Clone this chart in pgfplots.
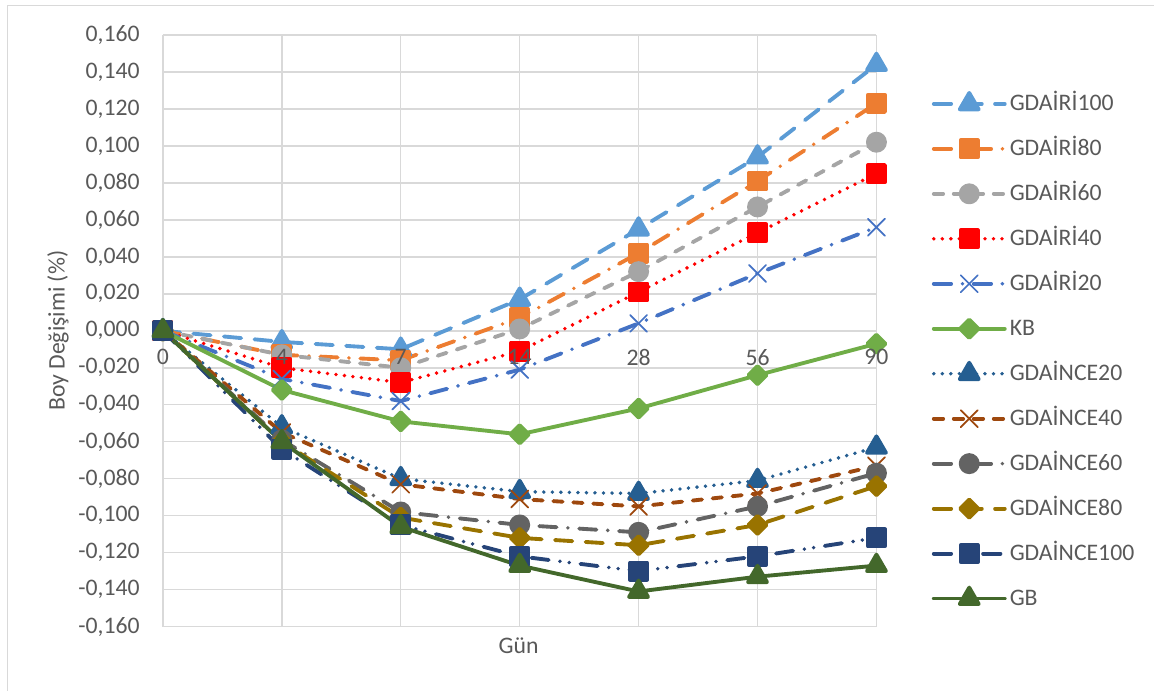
\documentclass[border=0pt]{standalone}
\usepackage{fontspec}
\setmainfont{Carlito}
\usepackage{pgfplots}
\pgfplotsset{compat=1.18}

\definecolor{txt}{HTML}{595959}
\definecolor{gridc}{HTML}{D9D9D9}
\definecolor{cA}{HTML}{5B9BD5}
\definecolor{cB}{HTML}{ED7D31}
\definecolor{cC}{HTML}{A5A5A5}
\definecolor{cD}{HTML}{FF0000}
\definecolor{cE}{HTML}{4472C4}
\definecolor{cF}{HTML}{70AD47}
\definecolor{cG}{HTML}{255E91}
\definecolor{cH}{HTML}{9E480E}
\definecolor{cI}{HTML}{636363}
\definecolor{cJ}{HTML}{997300}
\definecolor{cK}{HTML}{264478}
\definecolor{cL}{HTML}{43682B}

\newcommand{\lbl}{\fontsize{17.8pt}{21pt}\selectfont\color{txt}}

% tick labels sit above the plotted series
\pgfplotsset{
  layers/labelsontop/.define layer set={
    axis background,axis grid,axis ticks,axis lines,pre main,main,axis tick labels,axis descriptions,axis foreground
  }{
    grid style={/pgfplots/on layer=axis grid},
    tick style={/pgfplots/on layer=axis ticks},
    axis line style={/pgfplots/on layer=axis lines},
    label style={/pgfplots/on layer=axis descriptions},
    legend style={/pgfplots/on layer=axis descriptions},
    title style={/pgfplots/on layer=axis descriptions},
    colorbar style={/pgfplots/on layer=axis descriptions},
    ticklabel style={/pgfplots/on layer=axis tick labels},
    axis background@ style={/pgfplots/on layer=axis background},
    3d box foreground style={/pgfplots/on layer=axis foreground},
  },
}

\tikzset{
  longdash/.style={dash pattern=on 13pt off 10pt},
  shortdash/.style={dash pattern=on 7pt off 8pt},
  longdashdot/.style={dash pattern=on 13pt off 8.5pt on 0pt off 8.5pt},
  longdashdotdot/.style={dash pattern=on 13pt off 8.5pt on 0pt off 7pt on 0pt off 8.5pt},
  rounddot/.style={dash pattern=on 0pt off 6.4pt},
}

\begin{document}
\begin{tikzpicture}
% page extent
\path (0,0) rectangle (866.25pt,-518.25pt);
% chart frame
\draw[gridc, line width=1.1pt] (5.8pt,-518.25pt) -- (5.8pt,-4.3pt) -- (866.25pt,-4.3pt);

\begin{axis}[
  set layers=labelsontop,
  at={(122.25pt,-470.25pt)}, anchor=south west,
  width=535.5pt, height=444pt, scale only axis,
  xmin=0, xmax=6, ymin=-0.16, ymax=0.16,
  clip=false,
  axis x line*=middle,
  hide obscured x ticks=false,
  axis line style={draw=none},
  major tick length=0pt,
  xtick={0,1,2,3,4,5,6},
  xticklabels={0,4,7,14,28,56,90},
  ytick={-0.16,-0.14,-0.12,-0.10,-0.08,-0.06,-0.04,-0.02,0,0.02,0.04,0.06,0.08,0.10,0.12,0.14,0.16},
  yticklabels={{-0,160},{-0,140},{-0,120},{-0,100},{-0,080},{-0,060},{-0,040},{-0,020},{0,000},{0,020},{0,040},{0,060},{0,080},{0,100},{0,120},{0,140},{0,160}},
  grid=major,
  grid style={gridc, line width=1.1pt},
  xticklabel style={font=\lbl, anchor=north, inner sep=0pt, yshift=-13.5pt},
  yticklabel style={font=\lbl, anchor=east, inner sep=0pt, xshift=-17.25pt},
  xlabel={Gün},
  ylabel={Boy Değişimi (\%)},
  every axis x label/.style={at={(axis description cs:0.4986,-0.032)}, anchor=center, font=\lbl},
  every axis y label/.style={at={(axis description cs:-0.147,0.5)}, rotate=90, anchor=center, font=\lbl},
  every axis plot/.append style={line width=2.9pt, line cap=round, line join=round},
  legend cell align=left,
  legend style={draw=none, fill=none, at={(1.0717,0.9088)}, anchor=north west,
    font=\lbl, row sep=15.75pt, column sep=2.3pt,
    nodes={inner sep=0pt, text height=14pt, text depth=4pt}},
  legend image code/.code={\draw[mark repeat=2, mark phase=2, #1] plot coordinates {(0pt,0pt) (26.6pt,0pt) (53.25pt,0pt)};},
]
% GDAİRİ100
\addplot[cA, longdash, mark=triangle*, mark size=8.2pt, mark options={solid}] coordinates {(0,0) (1,-0.006) (2,-0.010) (3,0.017) (4,0.055) (5,0.094) (6,0.144)};
\addlegendentry{GDAİRİ100}
% GDAİRİ80
\addplot[cB, longdashdot, mark=square*, mark size=6.4pt, mark options={solid}] coordinates {(0,0) (1,-0.013) (2,-0.016) (3,0.007) (4,0.042) (5,0.081) (6,0.123)};
\addlegendentry{GDAİRİ80}
% GDAİRİ60
\addplot[cC, shortdash, mark=*, mark size=6.4pt, mark options={solid}] coordinates {(0,0) (1,-0.013) (2,-0.020) (3,0.001) (4,0.032) (5,0.067) (6,0.102)};
\addlegendentry{GDAİRİ60}
% GDAİRİ40
\addplot[cD, rounddot, mark=square*, mark size=6.4pt, mark options={solid}] coordinates {(0,0) (1,-0.020) (2,-0.028) (3,-0.011) (4,0.021) (5,0.053) (6,0.085)};
\addlegendentry{GDAİRİ40}
% GDAİRİ20
\addplot[cE, longdashdot, mark=x, mark size=9pt, mark options={solid, line width=1.3pt}] coordinates {(0,0) (1,-0.026) (2,-0.038) (3,-0.021) (4,0.004) (5,0.031) (6,0.056)};
\addlegendentry{GDAİRİ20}
% KB
\addplot[cF, solid, mark=square*, mark size=4.8pt, mark options={solid, rotate=45}] coordinates {(0,0) (1,-0.032) (2,-0.049) (3,-0.056) (4,-0.042) (5,-0.024) (6,-0.007)};
\addlegendentry{KB}
% GDAİNCE20
\addplot[cG, rounddot, mark=triangle*, mark size=8.2pt, mark options={solid}] coordinates {(0,0) (1,-0.052) (2,-0.080) (3,-0.087) (4,-0.088) (5,-0.081) (6,-0.063)};
\addlegendentry{GDAİNCE20}
% GDAİNCE40
\addplot[cH, shortdash, mark=x, mark size=9pt, mark options={solid, line width=1.3pt}] coordinates {(0,0) (1,-0.055) (2,-0.083) (3,-0.091) (4,-0.095) (5,-0.088) (6,-0.073)};
\addlegendentry{GDAİNCE40}
% GDAİNCE60
\addplot[cI, longdashdot, mark=*, mark size=6.4pt, mark options={solid}] coordinates {(0,0) (1,-0.059) (2,-0.098) (3,-0.105) (4,-0.109) (5,-0.095) (6,-0.077)};
\addlegendentry{GDAİNCE60}
% GDAİNCE80
\addplot[cJ, longdash, mark=square*, mark size=4.8pt, mark options={solid, rotate=45}] coordinates {(0,0) (1,-0.060) (2,-0.101) (3,-0.112) (4,-0.116) (5,-0.105) (6,-0.084)};
\addlegendentry{GDAİNCE80}
% GDAİNCE100
\addplot[cK, longdashdotdot, mark=square*, mark size=6.4pt, mark options={solid}] coordinates {(0,0) (1,-0.064) (2,-0.105) (3,-0.122) (4,-0.130) (5,-0.122) (6,-0.112)};
\addlegendentry{GDAİNCE100}
% GB
\addplot[cL, solid, mark=triangle*, mark size=8.2pt, mark options={solid}] coordinates {(0,0) (1,-0.060) (2,-0.106) (3,-0.127) (4,-0.141) (5,-0.133) (6,-0.127)};
\addlegendentry{GB}
\end{axis}
\end{tikzpicture}
\end{document}
